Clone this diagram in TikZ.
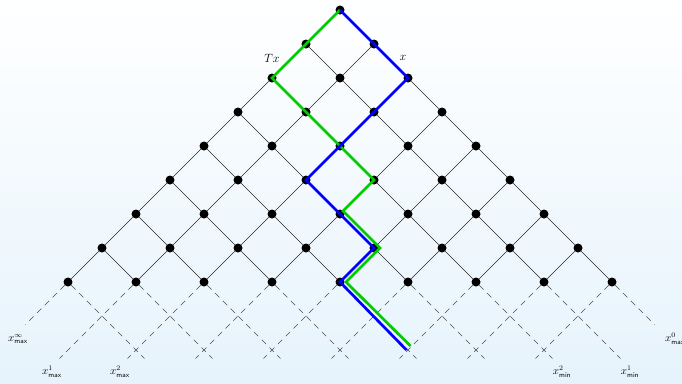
\documentclass[tikz,border=0pt]{standalone}
\usetikzlibrary{calc}
\definecolor{bgbot}{RGB}{230,243,252}
\definecolor{pathgreen}{RGB}{0,204,0}
\definecolor{pathblue}{RGB}{0,0,255}
\begin{document}
\begin{tikzpicture}[x=1bp,y=-1bp,
  dot/.style={circle,fill=black,inner sep=0pt,minimum size=9bp},
  gridline/.style={line width=0.6bp,black!85},
  dashline/.style={line width=0.6bp,black!70,dash pattern=on 6bp off 5bp},
  bluepath/.style={line width=2.7bp,pathblue},
  greenpath/.style={line width=2.7bp,pathgreen},
  toplab/.style={font=\large,inner sep=0pt},
  botlab/.style={font=\fontsize{10.5}{12}\selectfont,inner sep=0pt}]
\useasboundingbox (0,0) rectangle (682,383);
\fill[top color=white,bottom color=bgbot] (0,0) rectangle (682,383);
% nodes
\foreach \k in {0,...,8} {
  \foreach \j in {0,...,\k} {
    \node[dot] (n-\k-\j) at ({340+34*(2*\j-\k)},{10+34*\k}) {};
  }
}
% solid lattice
\foreach \k in {0,...,7} {
  \foreach \j in {0,...,\k} {
    \pgfmathtruncatemacro\kk{\k+1}
    \pgfmathtruncatemacro\jj{\j+1}
    \draw[gridline] (n-\k-\j) -- (n-\kk-\j);
    \draw[gridline] (n-\k-\j) -- (n-\kk-\jj);
  }
}
% dashed continuation
\coordinate (dl-0) at ({340-272-42.5},324.5);
\coordinate (dr-8) at ({340+272+42.5},324.5);
\foreach \j in {1,...,8} {
  \coordinate (dl-\j) at ({340+34*(2*\j-8)-76.5},358.5);
}
\foreach \j in {0,...,7} {
  \coordinate (dr-\j) at ({340+34*(2*\j-8)+76.5},358.5);
}
\foreach \j in {0,...,8} {
  \draw[dashline] (n-8-\j) -- (dl-\j);
  \draw[dashline] (n-8-\j) -- (dr-\j);
}
% labels
\node[toplab] (lTx) at (272,58) {$Tx$};
\node[toplab] (lx) at (403,58) {$x$};
\node[botlab] (b1) at (18,339) {$x^{\infty}_{\mathsf{max}}$};
\node[botlab] (b2) at (52,372) {$x^{1}_{\mathsf{max}}$};
\node[botlab] (b3) at (120,372) {$x^{2}_{\mathsf{max}}$};
\node[botlab] (b4) at (562,372) {$x^{2}_{\mathsf{min}}$};
\node[botlab] (b5) at (630,372) {$x^{1}_{\mathsf{min}}$};
\node[botlab] (b6) at (675,339) {$x^{0}_{\mathsf{max}}$};
% paths
\coordinate (gend) at (410.5,346);
\coordinate (bend) at (406.5,350);
\draw[greenpath] (n-0-0.center) -- (n-1-0.center) -- (n-2-0.center) -- (n-3-1.center)
  -- (n-4-2.center) -- (n-5-3.center) -- ([xshift=3bp,yshift=3bp]n-6-3.center)
  -- ([xshift=6bp]n-7-4.center) -- ([xshift=6bp]n-8-4.center) -- (gend);
\draw[bluepath] (n-0-0.center) -- (n-1-1.center) -- (n-2-2.center) -- (n-3-2.center)
  -- (n-4-2.center) -- (n-5-2.center) -- (n-6-3.center)
  -- (n-7-4.center) -- (n-8-4.center) -- (bend);
\end{tikzpicture}
\end{document}
